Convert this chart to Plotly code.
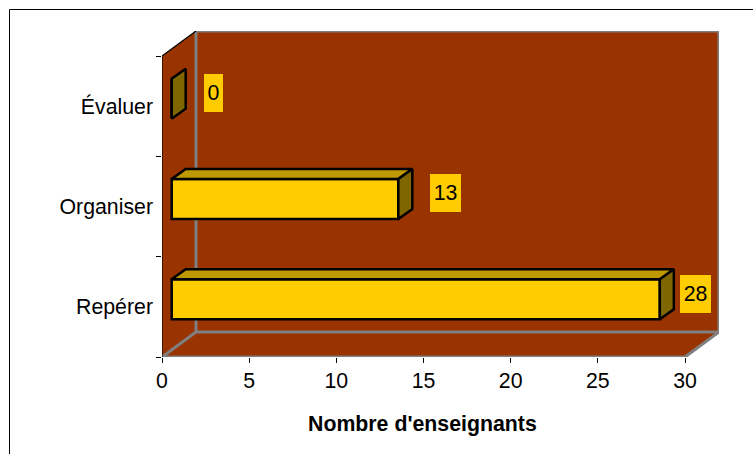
import plotly.graph_objects as go

categories = ["Repérer", "Organiser", "Évaluer"]
values = [28, 13, 0]
x_ticks = [0, 5, 10, 15, 20, 25, 30]
x_title = "Nombre d'enseignants"

W, H = 753, 454
L, R, T, B = 162, 719, 31, 357
X_MAX = 30
PX_PER_X = 523 / X_MAX
PX_PER_Y = 100.33
WALL_DX = 34 / PX_PER_X
WALL_DY = 25 / PX_PER_Y
BAR_X0 = 9.7 / PX_PER_X
BAR_DY = 7.5 / PX_PER_Y
BAR_H = 40 / PX_PER_Y
BAR_DEPTH_X = 14 / PX_PER_X
BAR_DEPTH_Y = 10 / PX_PER_Y
LABEL_GAP = [35.8 / PX_PER_X, 46.7 / PX_PER_X, 41.8 / PX_PER_X]
LABEL_W = [31, 31, 19]

WALL = "#993300"
GREY = "#808080"
YELLOW = "#FFCC00"
TOP = "#BF9900"
SIDE = "#7F6600"
FONT = "Liberation Sans, Arial, sans-serif"
FS = 21.3
BAR_LINE = 2.5
EDGE = 3

y_lo, y_hi = -0.5, 2.5
positions = list(range(len(categories)))


def poly(pts):
    return "M " + " L ".join(f"{a},{b}" for a, b in pts) + " Z"


shapes = [
    dict(type="path", xref="x", yref="y", layer="below", fillcolor=WALL, line=dict(width=0),
         path=poly([(0, y_lo), (X_MAX, y_lo), (X_MAX + WALL_DX, y_lo + WALL_DY),
                    (X_MAX + WALL_DX, y_hi + WALL_DY), (WALL_DX, y_hi + WALL_DY), (0, y_hi)])),
    # back-wall corner runs behind the bars
    dict(type="line", xref="x", yref="y", layer="below", x0=WALL_DX, y0=y_lo + WALL_DY,
         x1=WALL_DX, y1=y_hi + WALL_DY, line=dict(color=GREY, width=EDGE)),
    # chart frame
    dict(type="path", xref="paper", yref="paper", layer="below", line=dict(color="#000000", width=1),
         path=f"M {9.5 / W},0 L {9.5 / W},{1 - 9.5 / H} L 1,{1 - 9.5 / H}"),
]

fig = go.Figure()

fig.add_trace(go.Bar(
    orientation="h",
    y=[p + BAR_DY for p in positions],
    x=values,
    base=BAR_X0,
    width=BAR_H,
    marker=dict(color=YELLOW, line=dict(color="#000000", width=BAR_LINE)),
    showlegend=False,
    hoverinfo="skip",
))

# wall and floor edges: unclipped so they keep their full width on the plot border
grey_edges = [
    ([WALL_DX, X_MAX + WALL_DX, X_MAX + WALL_DX, WALL_DX],
     [y_hi + WALL_DY, y_hi + WALL_DY, y_lo + WALL_DY, y_lo + WALL_DY]),
    ([0, WALL_DX], [y_lo, y_lo + WALL_DY]),
    ([0, X_MAX, X_MAX + WALL_DX], [y_lo, y_lo, y_lo + WALL_DY]),
]
for ex, ey in grey_edges:
    fig.add_trace(go.Scatter(x=ex, y=ey, mode="lines", line=dict(color=GREY, width=EDGE),
                             cliponaxis=False, showlegend=False, hoverinfo="skip"))
fig.add_trace(go.Scatter(x=[0, 0, WALL_DX], y=[y_lo, y_hi, y_hi + WALL_DY], mode="lines",
                         line=dict(color="#000000", width=1.2), cliponaxis=False,
                         showlegend=False, hoverinfo="skip"))

for p, v in zip(positions, values):
    x0, x1 = BAR_X0, BAR_X0 + v
    y0, y1 = p + BAR_DY - BAR_H / 2, p + BAR_DY + BAR_H / 2
    faces = [
        ([x0, x1, x1 + BAR_DEPTH_X, x0 + BAR_DEPTH_X, x0],
         [y1, y1, y1 + BAR_DEPTH_Y, y1 + BAR_DEPTH_Y, y1], TOP),
        ([x1, x1 + BAR_DEPTH_X, x1 + BAR_DEPTH_X, x1, x1],
         [y0, y0 + BAR_DEPTH_Y, y1 + BAR_DEPTH_Y, y1, y0], SIDE),
    ]
    for fx, fy, col in faces:
        if v == 0 and col == TOP:
            continue
        fig.add_trace(go.Scatter(x=fx, y=fy, mode="lines", fill="toself", fillcolor=col,
                                 line=dict(color="#000000", width=BAR_LINE),
                                 showlegend=False, hoverinfo="skip"))

annotations = [
    dict(xref="x", yref="y", x=BAR_X0 + v + g, y=p + BAR_DY + 0.055, text=str(v), showarrow=False,
         bgcolor=YELLOW, width=w, height=38, borderpad=0, borderwidth=0,
         font=dict(family=FONT, size=FS, color="#000000"))
    for p, v, g, w in zip(positions, values, LABEL_GAP, LABEL_W)
]
annotations.append(dict(xref="paper", yref="paper", x=422.5 / W, y=1 - 424 / H, text=f"<b>{x_title}</b>",
                        showarrow=False, yanchor="middle", xanchor="center",
                        font=dict(family=FONT, size=FS, color="#000000")))

fig.update_layout(
    width=W, height=H, autosize=False,
    margin=dict(l=0, r=0, t=0, b=0),
    paper_bgcolor="white", plot_bgcolor="rgba(0,0,0,0)",
    shapes=shapes, annotations=annotations,
    showlegend=False,
    xaxis=dict(domain=[L / W, R / W], range=[0, X_MAX + WALL_DX], tickvals=x_ticks, ticks="outside",
               ticklen=5, tickcolor="#000000", showgrid=False, zeroline=False, showline=False,
               automargin=False, ticklabelstandoff=-1,
               tickfont=dict(family=FONT, size=FS, color="#000000")),
    yaxis=dict(domain=[1 - B / H, 1 - T / H], range=[y_lo, y_hi + WALL_DY], tickvals=positions,
               ticktext=categories, ticks="", showgrid=False, zeroline=False, showline=False,
               ticklabelstandoff=8, automargin=False,
               minor=dict(tickvals=[-0.5, 0.5, 1.5, 2.5], ticks="outside", ticklen=5,
                          tickcolor="#000000", showgrid=False),
               tickfont=dict(family=FONT, size=FS, color="#000000")),
)

fig.write_html("out.html", config=dict(displayModeBar=False),
               post_script="document.body.style.margin='0';document.body.style.overflow='hidden';")
